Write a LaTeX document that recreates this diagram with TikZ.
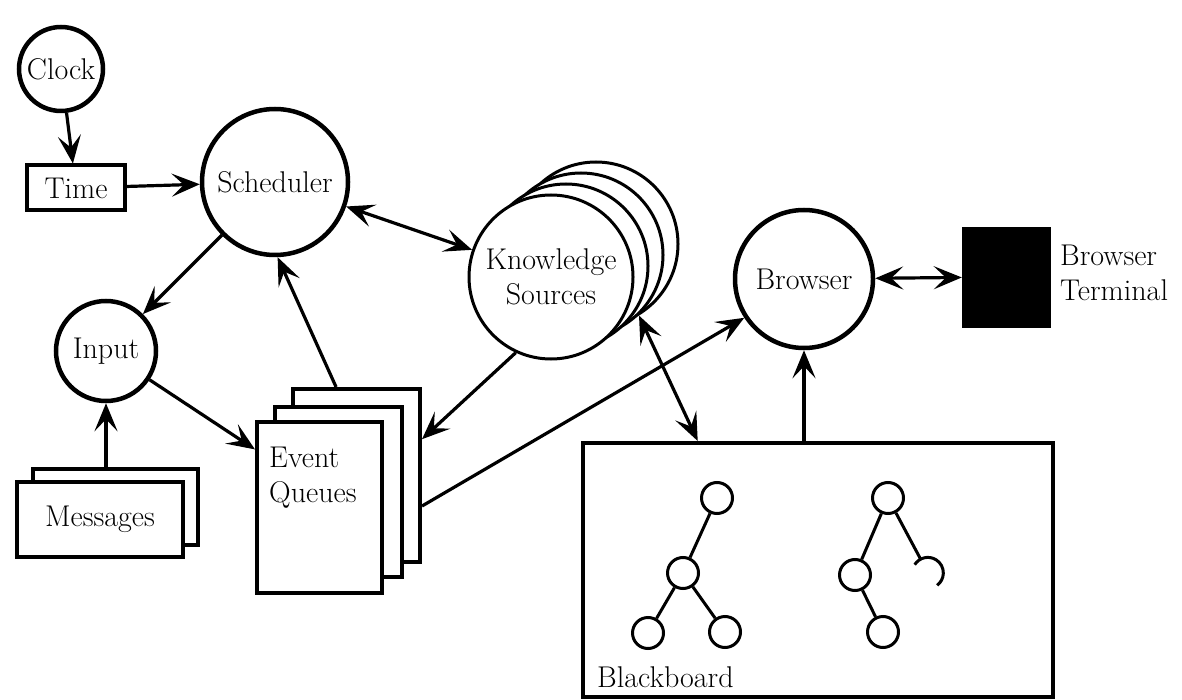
\documentclass[tikz,border=0pt]{standalone}
\usepackage{fontspec}
\usetikzlibrary{arrows.meta,calc}
\begin{document}
\begin{tikzpicture}[x=1pt,y=-1pt,
  every node/.style={font=\rmfamily\fontsize{30}{35}\selectfont},
  bigc/.style={circle,draw,line width=4.5pt,inner sep=0pt,fill=white},
  ksc/.style={circle,draw,line width=3pt,inner sep=0pt,fill=white,minimum size=164},
  boxn/.style={rectangle,draw,line width=4pt,inner sep=0pt,fill=white},
  tnode/.style={circle,draw,line width=3pt,inner sep=0pt,minimum size=31},
  tip/.tip={Stealth[length=28pt,width=23pt,inset=12pt]},
  arr/.style={line width=3.2pt,-tip},
  darr/.style={line width=3.2pt,tip-tip},
  tline/.style={line width=3pt}]
\useasboundingbox (0,0) rectangle (1182,700);

% nodes
\node[bigc,minimum size=84] (clock) at (61,69) {Clock};
\node[boxn,minimum width=98,minimum height=45] (time) at (76,188) {Time};
\node[bigc,minimum size=146] (sched) at (275,182) {Scheduler};
\node[bigc,minimum size=100] (input) at (106,351) {Input};

\node[boxn,minimum width=165,minimum height=76] (msgb) at (115.5,507) {};
\node[boxn,minimum width=166,minimum height=75] (msgf) at (100,519.5) {Messages};

\node[boxn,minimum width=127,minimum height=173] (eqb) at (356.5,475.5) {};
\node[boxn,minimum width=127,minimum height=170] (eqm) at (338.5,492) {};
\node[boxn,minimum width=125,minimum height=171] (eqf) at (319.5,507.5) {};
\node[anchor=north west,align=left,inner sep=0pt] (eqtext) at (269,447) {Event\\Queues};

\node[ksc] (ks4) at (596,244) {};
\node[ksc] (ks3) at (581,255) {};
\node[ksc] (ks2) at (566,266) {};
\node[ksc,align=center] (ks) at (551,277) {Knowledge\\Sources};

\node[bigc,minimum size=138] (browser) at (804,279) {Browser};
\node[rectangle,fill=black,draw=black,minimum width=88,minimum height=100,inner sep=0pt] (term) at (1006,277) {};
\node[anchor=west,align=left,inner sep=0pt] (termlbl) at (1060,273) {Browser\\Terminal};

\node[rectangle,draw,line width=4pt,minimum width=470,minimum height=254,inner sep=0pt] (bb) at (818,570) {};
\node[anchor=south west,inner sep=0pt] (bblbl) at (597,688) {Blackboard};

% trees
\node[tnode] (a1) at (717,498) {};
\node[tnode] (a2) at (683,573) {};
\node[tnode] (a3) at (648,633) {};
\node[tnode] (a4) at (725,632) {};
\draw[tline] (a1) -- (a2);
\draw[tline] (a2) -- (a3);
\draw[tline] (a2) -- (a4);

\node[tnode] (b1) at (888,498) {};
\node[tnode] (b2) at (855,575) {};
\node[tnode] (b4) at (883,632) {};
\node[circle,minimum size=31,inner sep=0pt] (b3) at (928,573) {};
\draw[tline] (b3.148) arc[start angle=-148,end angle=53,radius=15.5];
\draw[tline] (b1) -- (b2);
\draw[tline] (b2) -- (b4);
\draw[tline] (b1) -- (b3);

% connectors
\draw[arr] (clock) -- (time);
\draw[arr] (time) -- (sched);
\draw[arr] (sched) -- (input);
\draw[darr] (sched) -- (ks);
\draw[arr] (input) -- (eqf.138);
\draw[arr] (eqb.103) -- (sched.-88);
\draw[arr] (ks.245) -- (eqb.29);
\draw[darr] (ks4.-59) -- (bb.133);
\draw[arr] (eqb.-25) -- (browser.213);
\draw[darr] (browser) -- (term);
\draw[arr] (browser |- bb.north) -- (browser);
\draw[arr] (input |- msgb.north) -- (input);
\end{tikzpicture}
\end{document}
